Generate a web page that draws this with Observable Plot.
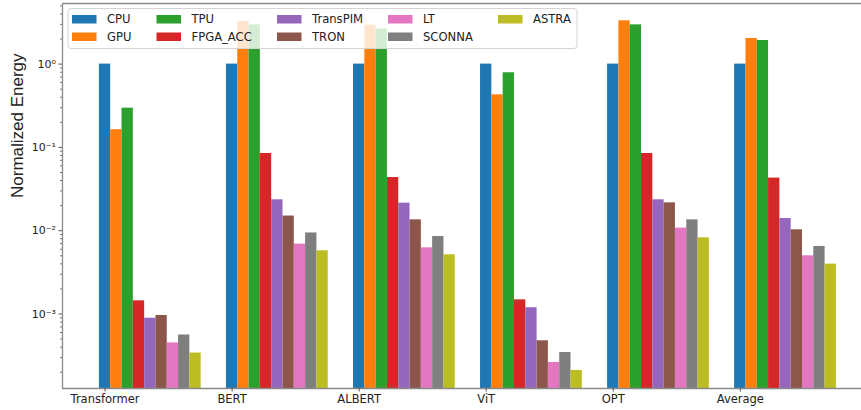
<!DOCTYPE html>
<html>
<head>
<meta charset="utf-8">
<script src="https://cdn.jsdelivr.net/npm/d3@7"></script>
<script src="https://cdn.jsdelivr.net/npm/@observablehq/plot@0.6"></script>
<style>
  html, body { margin: 0; padding: 0; background: #fff; overflow: hidden; }
  #chart { width: 861px; height: 410px; }
</style>
</head>
<body>
<div id="chart"></div>
<script>
// Workloads along the x axis and the accelerators compared in each group
const workloads = ["Transformer", "BERT", "ALBERT", "ViT", "OPT", "Average"];
const accelerators = ["CPU", "GPU", "TPU", "FPGA_ACC", "TransPIM", "TRON", "LT", "SCONNA", "ASTRA"];
const palette = ["#1f77b4", "#ff7f0e", "#2ca02c", "#d62728", "#9467bd", "#8c564b", "#e377c2", "#7f7f7f", "#bcbd22"];

// Energy normalized to the CPU, one array per accelerator (same order as workloads)
const cpu      = [1, 1, 1, 1, 1, 1];
const gpu      = [0.163, 3.25, 2.94, 0.428, 3.31, 2.03];
const tpu      = [0.296, 2.96, 2.63, 0.787, 2.96, 1.92];
const fpgaAcc  = [0.00144, 0.0845, 0.0435, 0.00148, 0.0845, 0.0428];
const transPim = [0.00089, 0.0235, 0.0214, 0.00119, 0.0235, 0.0140];
const tron     = [0.00096, 0.0150, 0.0135, 0.000477, 0.0216, 0.01025];
const lt       = [0.00045, 0.0069, 0.00623, 0.000262, 0.01075, 0.0050];
const sconna   = [0.00056, 0.0094, 0.00853, 0.000345, 0.0135, 0.00647];
const astra    = [0.00034, 0.00574, 0.00514, 0.00021, 0.00822, 0.00397];

const seriesValues = [cpu, gpu, tpu, fpgaAcc, transPim, tron, lt, sconna, astra];

// Long-format rows: group index gi, series index si
const rows = seriesValues.flatMap((vals, si) =>
  vals.map((value, gi) => ({ workload: workloads[gi], accelerator: accelerators[si], gi, si, value }))
);

const W = 861, H = 410;
const barWidth = 0.089;           // bar width in group units
const xLo = -0.335, xHi = 5.954;  // visible x extent
const yFloor = 1.276e-4, yCeil = 5.34;

// log-axis helpers
const supMap = { "-": "\u207B", "0": "\u2070", "1": "\u00B9", "2": "\u00B2", "3": "\u00B3", "4": "\u2074" };
const powerLabel = v => "10" + String(Math.round(Math.log10(v))).replace(/./g, c => supMap[c]);
const majorTicks = [1, 0.1, 0.01, 0.001];
const minorTicks = d3.range(-4, 1)
  .flatMap(e => d3.range(2, 10).map(m => m * Math.pow(10, e)))
  .filter(v => v > yFloor && v < yCeil);

const axisColor = "#8a8a8a";
const textColor = "#222";

const chart = Plot.plot({
  width: W,
  height: H,
  marginLeft: 62,
  marginRight: 0,
  marginTop: 3,
  marginBottom: 22,
  style: { fontFamily: "DejaVu Sans", fontSize: "11px", background: "white", color: textColor },
  x: { type: "linear", domain: [xLo, xHi], axis: null },
  y: { type: "log", domain: [yFloor, yCeil], axis: null },
  color: { domain: accelerators, range: palette },
  marks: [
    Plot.rectY(rows, {
      x1: d => d.gi + d.si * barWidth - barWidth / 2,
      x2: d => d.gi + d.si * barWidth + barWidth / 2,
      y1: yFloor,
      y2: "value",
      fill: "accelerator",
      clip: true
    }),
    // spines
    Plot.ruleX([xLo], { stroke: axisColor, strokeWidth: 1.3 }),
    Plot.ruleY([yFloor], { stroke: axisColor, strokeWidth: 1.3 }),
    Plot.ruleY([yCeil], { stroke: axisColor, strokeWidth: 1.3 }),
    // x axis: one tick per workload
    Plot.axisX(d3.range(workloads.length), {
      tickFormat: i => workloads[i],
      tickSize: 3.5,
      tickPadding: 3,
      stroke: "#555",
      fill: textColor,
      fontSize: 11.5,
      label: null
    }),
    // y axis: decades labelled, minor ticks unlabelled
    Plot.axisY(majorTicks, {
      tickFormat: powerLabel,
      tickSize: 3.5,
      tickPadding: 3,
      stroke: "#555",
      fill: textColor,
      fontSize: 11,
      label: null
    }),
    Plot.axisY(minorTicks, {
      tickFormat: () => "",
      tickSize: 2,
      stroke: "#777",
      label: null
    }),
    Plot.text(["Normalized Energy"], {
      frameAnchor: "left",
      rotate: -90,
      dx: -45,
      dy: 2,
      fontSize: 17,
      fontFamily: "Liberation Sans, Arial, sans-serif",
      fill: textColor
    })
  ]
});

// Legend box drawn over the bars (5 columns, 2 rows)
const svg = d3.select(chart);
const legend = svg.append("g").attr("class", "legend").attr("text-anchor", "start");
legend.append("rect")
  .attr("x", 68).attr("y", 8.5).attr("width", 509).attr("height", 40)
  .attr("rx", 3)
  .attr("fill", "white").attr("fill-opacity", 0.8)
  .attr("stroke", "#d4d4d4").attr("stroke-width", 1);

const colPatchX = [72, 156.5, 277, 388, 498];
const rowY = [19, 36.5];
accelerators.forEach((name, i) => {
  const col = Math.floor(i / 2), row = i % 2;
  const px = colPatchX[col], cy = rowY[row];
  legend.append("rect")
    .attr("x", px).attr("y", cy - 4).attr("width", 24.5).attr("height", 8.5)
    .attr("fill", palette[i]);
  legend.append("text")
    .attr("x", px + 35).attr("y", cy)
    .attr("dy", "0.36em")
    .attr("text-anchor", "start")
    .attr("font-family", "DejaVu Sans")
    .attr("font-size", 11.6)
    .attr("fill", textColor)
    .text(name);
});

document.getElementById("chart").appendChild(chart);
</script>
</body>
</html>
